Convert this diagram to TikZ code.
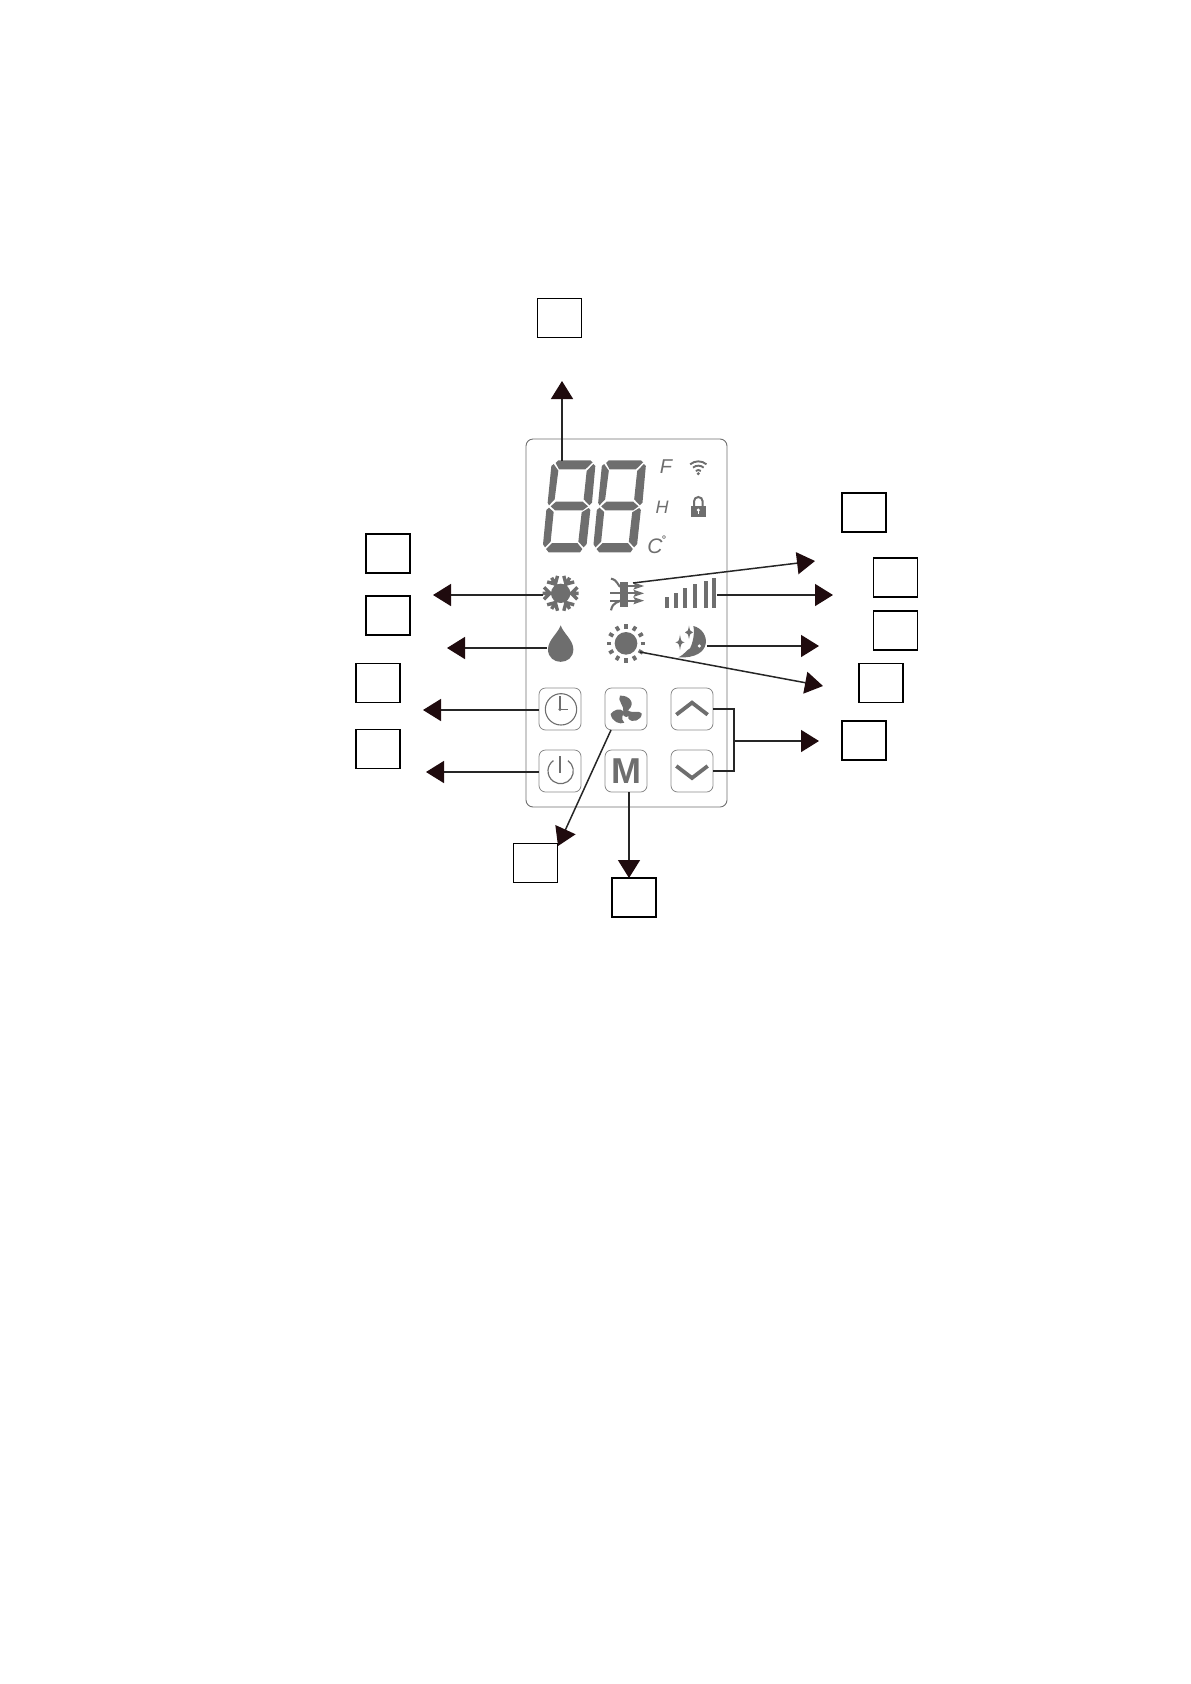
\documentclass[tikz,border=0pt]{standalone}
\usepackage{fontspec}
\setmainfont{Liberation Sans}
\usetikzlibrary{arrows.meta, positioning, calc}
\definecolor{icongray}{HTML}{6E6E6E}
\definecolor{linegray}{HTML}{8A8A8A}
\definecolor{tipdark}{HTML}{1F0B0E}
\tikzset{
    labelbox/.style={draw=black, line width=1.9pt, fill=white, minimum width=44pt, minimum height=39pt, inner sep=0pt},
    keybox/.style={draw=linegray, line width=0.8pt, rounded corners=6.5pt, minimum width=42pt, minimum height=42pt, inner sep=0pt},
    callout/.style={line width=1.5pt, draw=black!85, -{Triangle[length=18pt,width=22pt,color=tipdark]}},
    zoomA/.style={shift={(510,430)}, x=0.33333pt, y=-0.33333pt},
    zoomB/.style={shift={(510,620)}, x=0.33333pt, y=-0.33333pt},
    paneltext/.style={text=icongray, inner sep=0pt, font=\itshape}
}
% one seven-segment digit
\newcommand{\segdigit}{
    \fill[icongray] (137,99) -- (145,91) -- (241,91) -- (248,97) -- (226,118) -- (147,118) -- cycle;
    \fill[icongray] (124,108) -- (131,102) -- (145,122) -- (134,208) -- (117,226) -- (113,218) -- cycle;
    \fill[icongray] (250,102) -- (256,108) -- (246,218) -- (238,226) -- (221,208) -- (230,123) -- cycle;
    \fill[icongray] (122,229) -- (138,215) -- (218,215) -- (234,229) -- (218,241) -- (135,241) -- cycle;
    \fill[icongray] (117,233) -- (131,246) -- (122,335) -- (105,352) -- (99,343) -- (109,240) -- cycle;
    \fill[icongray] (236,234) -- (241,240) -- (230,342) -- (221,352) -- (205,335) -- (215,247) -- cycle;
    \fill[icongray] (108,357) -- (126,339) -- (202,339) -- (217,357) -- (210,367) -- (116,367) -- cycle;
}
% four-point star
\newcommand{\sparkstar}[3]{
    \fill[icongray] (#1,#2-#3) .. controls (#1+3,#2-5) and (#1+3,#2-3) .. (#1+#3*0.6,#2)
        .. controls (#1+3,#2+3) and (#1+3,#2+5) .. (#1,#2+#3)
        .. controls (#1-3,#2+5) and (#1-3,#2+3) .. (#1-#3*0.6,#2)
        .. controls (#1-3,#2-3) and (#1-3,#2-5) .. cycle;
}
\begin{document}
\begin{tikzpicture}[x=1pt, y=-1pt]
    \useasboundingbox (0,0) rectangle (1191,1684);

    % Panel
    \node[draw=icongray, line width=0.9pt, rounded corners=7pt, minimum width=201pt, minimum height=368pt, inner sep=0pt] (panel) at (626.5,623) {};

    % Digits
    \begin{scope}[zoomA]
        \segdigit
        \begin{scope}[xshift=50.5pt]
            \segdigit
        \end{scope}
    \end{scope}

    % Small letters
    \node[paneltext, font=\itshape\fontsize{20}{20}\selectfont] (letterF) at (666,467) {F};
    \node[paneltext, font=\itshape\fontsize{18}{18}\selectfont] (letterH) at (662,507) {H};
    \node[paneltext, font=\itshape\fontsize{21}{21}\selectfont] (letterC) at (655,546) {C};
    \node[paneltext, font=\bfseries\fontsize{11}{11}\selectfont] (letterDeg) at (664,540) {°};

    \begin{scope}[zoomA]
        % Wifi
        \foreach \r in {12,25,38} {
            \draw[icongray, line width=1.9pt] (565,132) ++(-130:\r) arc[start angle=-130, end angle=-50, radius=\r];
        }
        \fill[icongray] (565,131) circle (5);

        % Lock
        \draw[icongray, line width=2pt] (552,230) -- (552,214) arc[start angle=180, end angle=360, radius=13] -- (578,230);
        \fill[icongray] (543,228) rectangle (588,261);
        \fill[white] (565,240) circle (5);
        \fill[white] (563,240) rectangle (567,252);

        % Snowflake
        \fill[icongray] (152,490) circle (29);
        \foreach \a in {0,60,...,300} {
            \draw[icongray, line width=3.4pt, rotate around={\a:(152,490)}] (152,490) -- (206,490) (184,490) -- (202,472) (184,490) -- (202,508);
        }

        % Swing
        \fill[icongray] (330,455) rectangle (353,530);
        \draw[icongray, line width=1.8pt] (300,490) -- (390,490) (300,512) -- (390,512) (353,468) -- (390,468);
        \foreach \h in {468,490,512} {
            \fill[icongray] (402,\h) -- (370,\h-11) -- (376,\h) -- (370,\h+11) -- cycle;
        }
        \draw[icongray, line width=2.1pt] (303,446) .. controls (325,450) and (322,470) .. (335,472);
        \draw[icongray, line width=2.1pt] (303,541) .. controls (308,515) and (325,518) .. (335,510);

        % Fan speed bars
        \foreach \bx/\by in {465/500, 492/488, 520/473, 548/463, 582/452, 607/443} {
            \fill[icongray] (\bx,\by) rectangle (\bx+12,535);
        }

        % Drop
        \fill[icongray] (152,586) .. controls (160,610) and (190,630) .. (190,658)
            .. controls (190,708) and (114,708) .. (114,658)
            .. controls (114,630) and (144,610) .. cycle;

        % Sun
        \fill[icongray] (348,640) circle (34);
        \foreach \a in {0,30,...,330} {
            \draw[icongray, line width=3.6pt, rotate around={\a:(348,640)}] (392,640) -- (406,640);
        }

        % Moon
        \fill[icongray] (550,588) .. controls (602,600) and (612,688) .. (505,682)
            .. controls (525,672) and (530,660) .. (540,655)
            .. controls (548,640) and (555,610) .. cycle;
        \fill[white] (568,648) circle (5);
        \sparkstar{537}{607}{20}
        \sparkstar{510}{637}{23}
    \end{scope}

    % Keys
    \node[keybox] (keyClock) at (560,709) {};
    \node[keybox] (keyFan) at (626,709) {};
    \node[keybox] (keyUp) at (692,709) {};
    \node[keybox] (keyPower) at (560,771) {};
    \node[keybox] (keyMode) at (626,771) {\fontsize{36}{36}\selectfont\bfseries\textcolor{icongray}{M}};
    \node[keybox] (keyDown) at (692,771) {};

    \begin{scope}[zoomB]
        % Clock
        \draw[icongray, line width=1.1pt] (153,268) circle (47);
        \draw[icongray, line width=1.3pt] (150,228) -- (150,268) -- (175,268);
        \fill[icongray] (150,268) circle (5);

        % Power
        \draw[icongray, line width=1.2pt] (152,453) ++(-55:38) arc[start angle=-55, end angle=235, radius=38];
        \draw[icongray, line width=1.2pt] (150,408) -- (150,460);

        % Fan blades
        \fill[icongray] (340,275) .. controls (345,260) and (320,240) .. (330,227) .. controls (358,225) and (378,250) .. (355,270) -- cycle;
        \fill[icongray] (355,273) .. controls (370,280) and (385,270) .. (395,280) .. controls (397,300) and (365,312) .. (355,295) -- cycle;
        \fill[icongray] (342,275) .. controls (330,262) and (310,270) .. (302,282) .. controls (305,305) and (330,315) .. (343,308) .. controls (330,295) and (340,285) .. cycle;
        \fill[icongray] (349,280) circle (11);

        % Chevrons
        \draw[icongray, line width=3.8pt] (499,284) -- (546,248) -- (593,284);
        \draw[icongray, line width=3.8pt] (499,438) -- (546,474) -- (593,438);
    \end{scope}

    % Number boxes
    \node[labelbox] (boxDisplay) at (559.5,318) {};
    \node[labelbox] (boxCool) at (388,553.5) {};
    \node[labelbox] (boxDry) at (388,615.5) {};
    \node[labelbox] (boxTimer) at (378,683) {};
    \node[labelbox] (boxPower) at (378,749) {};
    \node[labelbox] (boxSwing) at (864,512.5) {};
    \node[labelbox] (boxSpeed) at (895.5,577.5) {};
    \node[labelbox] (boxSleep) at (895.5,630.5) {};
    \node[labelbox] (boxHeat) at (881,683) {};
    \node[labelbox] (boxKeys) at (864,740.5) {};
    \node[labelbox] (boxFan) at (535.5,863) {};
    \node[labelbox] (boxMode) at (634,897.5) {};

    % Connector ends
    \coordinate (fromDisplay) at (562,461);
    \coordinate (toDisplay) at (562,381);
    \coordinate (fromCool) at (543,595);
    \coordinate (toCool) at (433,595);
    \coordinate (fromDry) at (547,648);
    \coordinate (toDry) at (447,648);
    \coordinate (toTimer) at (423,710);
    \coordinate (toPower) at (426,772);
    \coordinate (fromSwing) at (633,583);
    \coordinate (toSwing) at (815,561);
    \coordinate (fromSpeed) at (717,595);
    \coordinate (toSpeed) at (833,595);
    \coordinate (fromSleep) at (707,646);
    \coordinate (toSleep) at (819,646);
    \coordinate (fromHeat) at (640,652);
    \coordinate (toHeat) at (823,686);
    \coordinate (keysMid) at (734,741);
    \coordinate (toKeys) at (819,741);
    \coordinate (fromFan) at (611,730);
    \coordinate (toFan) at (558,846);
    \coordinate (toMode) at (629,878);

    % Connectors
    \draw[callout] (fromDisplay) -- (toDisplay);
    \draw[callout] (fromCool) -- (toCool);
    \draw[callout] (fromDry) -- (toDry);
    \draw[callout] (keyClock.west |- toTimer) -- (toTimer);
    \draw[callout] (keyPower.west |- toPower) -- (toPower);
    \draw[callout] (fromSwing) -- (toSwing);
    \draw[callout] (fromSpeed) -- (toSpeed);
    \draw[callout] (fromSleep) -- (toSleep);
    \draw[callout] (fromHeat) -- (toHeat);
    \draw[line width=1.5pt, draw=black!85] (keyUp.east) -| (keysMid) |- (keyDown.east);
    \draw[callout] (keysMid) -- (toKeys);
    \draw[callout] (fromFan) -- (toFan);
    \draw[callout] (keyMode.south -| toMode) -- (toMode);
\end{tikzpicture}
\end{document}
